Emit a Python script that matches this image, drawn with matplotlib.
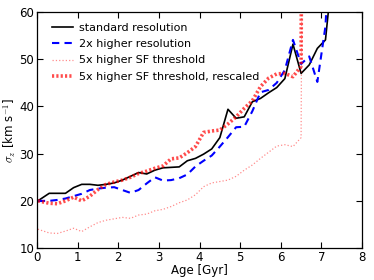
import numpy as np
import matplotlib
matplotlib.use("Agg")
import matplotlib.pyplot as plt

# -------------------------
# data
# -------------------------

age = [0.02, 0.3, 0.5, 0.7, 0.9, 1.1, 1.3, 1.5, 1.7, 1.9,
       2.1, 2.3, 2.5, 2.7, 2.9, 3.1, 3.3, 3.5, 3.7, 3.9,
       4.1, 4.3, 4.5, 4.7, 4.9, 5.1, 5.3, 5.5, 5.7, 5.9,
       6.1, 6.3, 6.5, 6.7, 6.9, 7.1, 7.3]

sigma_standard = [20.0, 21.6, 21.6, 21.6, 22.8, 23.5, 23.5, 23.3, 23.5, 23.8,
                  24.4, 25.2, 26.0, 25.7, 26.5, 27.0, 27.1, 27.2, 28.5, 29.0,
                  29.9, 31.0, 33.4, 39.4, 37.5, 37.8, 41.0, 41.7, 42.9, 44.0,
                  45.9, 53.2, 47.0, 48.8, 52.3, 54.1, 71.0]

sigma_2x = [20.0, 20.0, 20.2, 20.5, 21.0, 21.5, 22.3, 22.6, 22.8, 22.9,
            22.3, 21.7, 22.3, 23.7, 25.0, 24.3, 24.4, 24.8, 25.6, 27.3,
            28.5, 29.6, 31.5, 33.5, 35.6, 35.7, 39.0, 43.0, 43.5, 45.0,
            47.7, 54.1, 49.0, 50.6, 45.2, 57.0, 90.0]

age_sf = age[:34]

sigma_sf = [14.0, 13.2, 13.1, 13.6, 14.2, 13.5, 14.5, 15.4, 15.9, 16.2,
            16.5, 16.3, 17.0, 17.2, 17.9, 18.2, 18.8, 19.6, 20.2, 21.3,
            23.0, 23.8, 24.1, 24.4, 25.2, 26.5, 27.6, 29.0, 30.3, 31.6,
            31.9, 31.5, 33.4, 400.0]

sigma_sf_rescaled = [20.0, 19.5, 19.4, 20.0, 20.8, 20.0, 21.0, 22.4, 23.5, 24.0,
                     24.4, 25.0, 25.8, 26.3, 26.9, 27.4, 28.9, 29.1, 30.2, 31.5,
                     34.5, 34.8, 35.0, 36.3, 37.8, 39.6, 41.2, 44.2, 46.0, 46.9,
                     47.0, 46.3, 48.5, 500.0]

# -------------------------
# plot
# -------------------------

plt.rcParams["font.size"] = 8.5
plt.rcParams["mathtext.fontset"] = "cm"

fig = plt.figure(figsize=(3.74, 2.80), dpi=100)
ax = fig.add_axes([0.099, 0.114, 0.869, 0.843])

ax.plot(age, sigma_standard, color="black", lw=1.2, label="standard resolution")
ax.plot(age, sigma_2x, color="blue", lw=1.5, ls=(0, (3.5, 2.5)), label="2x higher resolution")
ax.plot(age_sf, sigma_sf, color="red", alpha=0.45, lw=0.9, ls=":", label="5x higher SF threshold")
ax.plot(age_sf, sigma_sf_rescaled, color="red", alpha=0.7, lw=2.6, ls=(0, (0.6, 0.6)),
        label="5x higher SF threshold, rescaled")

ax.set_xlim(0, 8)
ax.set_ylim(10, 60)
ax.set_xticks(range(0, 9))
ax.set_yticks([10, 20, 30, 40, 50, 60])
ax.tick_params(direction="in", top=True, right=True, length=4, width=0.8, pad=2)
for s in ax.spines.values():
    s.set_linewidth(0.9)

ax.set_xlabel("Age [Gyr]", labelpad=0)
ax.set_ylabel(r"$\sigma_z$ [km s$^{-1}$]", labelpad=1)

ax.legend(loc="upper left", bbox_to_anchor=(0.015, 0.995), frameon=False, fontsize=8,
          handlelength=1.9, handletextpad=0.5, labelspacing=0.55)

plt.savefig("out.png", dpi=100)
